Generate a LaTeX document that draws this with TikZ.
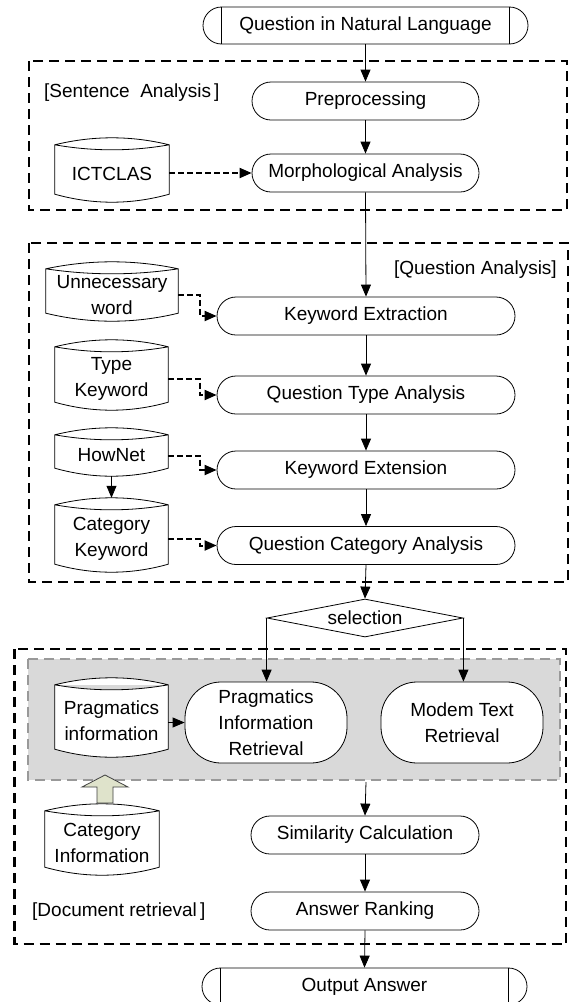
\documentclass[tikz,border=0pt]{standalone}
\usepackage{fontspec}
\setmainfont{Liberation Sans}
\usetikzlibrary{arrows.meta,shapes.geometric,calc}
\pgfdeclarelayer{back}
\pgfsetlayers{back,main}
\newcommand\dbdraw[1]{%
 \path[dbline] let \p1=(#1.north west), \p2=(#1.south east), \n1={(\x2-\x1)/3} in
 (\x1,\y1) .. controls ({\x1+\n1*1pt},{\y1+9.33pt}) and ({\x2-\n1*1pt},{\y1+9.33pt}) .. (\x2,\y1)
 -- (\x2,{\y2+8pt}) .. controls ({\x2-\n1*1pt},{\y2-2.67pt}) and ({\x1+\n1*1pt},{\y2-2.67pt}) .. (\x1,{\y2+8pt}) -- cycle
 (\x1,\y1) .. controls ({\x1+\n1*1pt},{\y1-6.67pt}) and ({\x2-\n1*1pt},{\y1-6.67pt}) .. (\x2,\y1);
}
\begin{document}
\begin{tikzpicture}[x=1pt,y=-1pt,
  every node/.style={font=\fontsize{19}{26}\selectfont, inner sep=0pt, align=center},
  proc/.style={draw, line width=0.8pt, fill=white, rounded corners=19pt, minimum height=38pt},
  bigproc/.style={draw, line width=0.8pt, fill=white, rounded corners=36pt, minimum width=162pt, minimum height=81pt},
  term/.style={draw, line width=0.8pt, fill=white, rounded corners=18.5pt, minimum width=325pt, minimum height=37pt},
  db/.style={},
  dbline/.style={draw, line width=0.8pt, fill=white},
  arr/.style={-{Triangle[length=12pt,width=10pt]}, line width=0.8pt},
  darr/.style={-{Triangle[length=12pt,width=10pt]}, line width=2pt, dash pattern=on 6pt off 3pt},
  region/.style={line width=2.4pt, dash pattern=on 10pt off 6pt},
  blockarr/.style={draw=black!75, line width=0.8pt, fill={rgb,255:red,223;green,227;blue,203}},
  sel/.style={draw, line width=0.8pt, fill=white, diamond, aspect=5.16, minimum width=196pt, minimum height=38pt}
]
\useasboundingbox (0,0) rectangle (572,1002);
\clip (0,0) rectangle (572,1002);

% main flow
\node[term] (qnl) at (365.5,25.5) {Question in Natural Language};
\node[proc, minimum width=227pt] (pre) at (365.5,101) {Preprocessing};
\node[proc, minimum width=227pt] (mor) at (365.5,173) {Morphological Analysis};
\node[proc, minimum width=298pt] (ke) at (366,316) {Keyword Extraction};
\node[proc, minimum width=298pt] (qta) at (366,395) {Question Type Analysis};
\node[proc, minimum width=298pt] (kext) at (366,470) {Keyword Extension};
\node[proc, minimum width=298pt] (qca) at (366,545.5) {Question Category Analysis};
\node[sel] (sel) at (365,618) {selection};
\node[bigproc] (pir) at (266,722.5) {Pragmatics\\Information\\Retrieval};
\node[bigproc] (mtr) at (462,722.5) {Modem Text\\Retrieval};
\node[proc, minimum width=228pt] (sim) at (365,835) {Similarity Calculation};
\node[proc, minimum width=228pt] (ar) at (365,911) {Answer Ranking};
\node[term] (out) at (364.5,986.5) {Output Answer};

% databases
\node[db, minimum width=114pt, minimum height=57pt] (ict) at (112,173.5) {ICTCLAS};
\node[db, minimum width=132pt, minimum height=52pt] (unn) at (112,295) {Unnecessary\\word};
\node[db, minimum width=113pt, minimum height=63pt] (tk) at (111.5,378.5) {Type\\Keyword};
\node[db, minimum width=113pt, minimum height=41pt] (hn) at (111.5,455.5) {HowNet};
\node[db, minimum width=113pt, minimum height=67pt] (ck) at (111.5,538.5) {Category\\Keyword};
\node[db, minimum width=113pt, minimum height=72pt] (pi) at (111.5,721) {Pragmatics\\information};
\node[db, minimum width=114pt, minimum height=64pt] (ci) at (102,843) {Category\\Information};

% region labels
\node[anchor=west] (lsa) at (44,93) {[Sentence\ \ Analysis\,]};
\node[anchor=east] (lqa) at (557,270) {[Question Analysis]};
\node[anchor=west] (ldr) at (32,912) {[Document retrieval\,]};

% terminal inner lines
\foreach \nm in {qnl,out}{
  \draw[line width=0.8pt] ([xshift=19pt]\nm.north west) -- ([xshift=19pt]\nm.south west);
  \draw[line width=0.8pt] ([xshift=-19pt]\nm.north east) -- ([xshift=-19pt]\nm.south east);
}

\begin{pgfonlayer}{back}
  \fill[white] (0,0) rectangle (572,1002);
  \draw[region] (29,61) rectangle (567,210);
  \draw[region] (29,243) rectangle (568,582);
  \draw[region] (14.5,649) rectangle (566,944);
  \draw[region, draw=gray!80, fill=gray!30] (28,659) rectangle (560,780);
  \dbdraw{ict}\dbdraw{unn}\dbdraw{tk}\dbdraw{hn}\dbdraw{ck}\dbdraw{pi}\dbdraw{ci}
\end{pgfonlayer}

% connectors
\coordinate (gb) at (366,782);
\draw[arr] (qnl) -- (pre);
\draw[arr] (pre) -- (mor);
\draw[arr] (mor.south) -- (ke.north);
\draw[arr] (ke) -- (qta);
\draw[arr] (qta) -- (kext);
\draw[arr] (kext) -- (qca);
\draw[arr] (qca.south) -- (sel.north);
\draw[arr] (sel.west) -- (sel.west |- pir.north);
\draw[arr] (sel.east) -- (sel.east |- mtr.north);
\draw[arr] (gb) -- (sim.north);
\draw[arr] (sim) -- (ar);
\draw[arr] (ar.south) -- (out.north);
\draw[arr] (hn.south) -- ($(ck.north)+(0,-7)$);
\draw[arr] (pi.east |- pir.west) -- (pir.west);

\draw[darr] (ict.east |- mor.west) -- (mor.west);
\draw[darr] (unn.east) -- ++(22,0) |- (ke.west);
\draw[darr] (tk.east) -- ++(32,0) |- (qta.west);
\draw[darr] (hn.east) -- ++(32,0) |- (kext.west);
\draw[darr] (ck.east) -- ++(32,0) |- (qca.west);

% block arrow (category information -> pragmatics box)
\draw[blockarr] (97,803) -- (97,787) -- (82,787) -- (105,775) -- (128,787) -- (113,787) -- (113,803) -- cycle;
\end{tikzpicture}
\end{document}
